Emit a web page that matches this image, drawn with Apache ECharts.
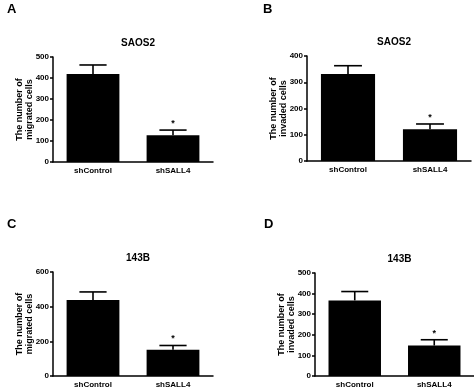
<!DOCTYPE html>
<html><head><meta charset="utf-8">
<script src="https://cdn.jsdelivr.net/npm/echarts@6/dist/echarts.min.js"></script>
<style>html,body{margin:0;padding:0;background:#fff}#c{width:474px;height:389px}</style>
</head><body><div id="c"></div>
<script>
var categories = ['shControl', 'shSALL4'];
var panelLetters = ['A', 'B', 'C', 'D'];
var panelTitles = ['SAOS2', 'SAOS2', '143B', '143B'];
var yNames = ['The number of\nmigrated cells', 'The number of\ninvaded cells', 'The number of\nmigrated cells', 'The number of\ninvaded cells'];
var meanA = [419, 127];
var errA = [462, 152];
var meanB = [331, 121];
var errB = [363, 141];
var meanC = [439, 151];
var errC = [485, 176];
var meanD = [367, 148];
var errD = [410, 176];
var yMax = [500, 400, 600, 500];
var yStep = [100, 100, 200, 100];
var signif = ['', '*'];

var means = [meanA, meanB, meanC, meanD];
var errs = [errA, errB, errC, errD];
var grids = [
  {left: 53, top: 57, width: 160, height: 105},
  {left: 307, top: 56, width: 164, height: 105},
  {left: 53, top: 272, width: 160, height: 105},
  {left: 315, top: 273, width: 159, height: 105}
];
var letterPos = [[2, -2], [258, -2], [2, 213], [259, 213]];
var font = 'Liberation Sans, Arial, sans-serif';

var option = {
  animation: false,
  backgroundColor: '#fff',
  title: [],
  grid: [], xAxis: [], yAxis: [], series: []
};
for (var i = 0; i < 4; i++) {
  var g = grids[i];
  option.grid.push({left: g.left, top: g.top, width: g.width, height: g.height, containLabel: false});
  option.title.push({text: panelTitles[i], left: g.left + g.width / 2, top: g.top - 24, textAlign: 'center',
    textStyle: {fontFamily: font, fontWeight: 'bold', fontSize: 10, color: '#000'}});
  option.title.push({text: panelLetters[i], left: letterPos[i][0], top: letterPos[i][1],
    textStyle: {fontFamily: font, fontWeight: 'bold', fontSize: 13, color: '#000'}});
  option.xAxis.push({type: 'category', gridIndex: i, data: categories,
    axisLine: {lineStyle: {color: '#000', width: 1.5}},
    axisTick: {alignWithLabel: true, length: 3, lineStyle: {color: '#000', width: 1.5}},
    axisLabel: {fontFamily: font, fontWeight: 'bold', fontSize: 8, color: '#000', margin: 5}});
  option.yAxis.push({type: 'value', gridIndex: i, min: 0, max: yMax[i], interval: yStep[i],
    name: yNames[i], nameLocation: 'middle', nameRotate: 90, nameGap: 18, nameMoveOverlap: false,
    nameTextStyle: {fontFamily: font, fontWeight: 'bold', fontSize: 9, color: '#000', lineHeight: 10},
    splitLine: {show: false},
    axisLine: {show: true, lineStyle: {color: '#000', width: 1.5}},
    axisTick: {show: true, length: 3, lineStyle: {color: '#000', width: 1.5}},
    axisLabel: {fontFamily: font, fontWeight: 'bold', fontSize: 8, color: '#000', margin: 4}});
  option.series.push({type: 'bar', xAxisIndex: i, yAxisIndex: i, data: means[i], barWidth: '66%',
    itemStyle: {color: '#000'}, z: 2});
  (function (idx) {
    option.series.push({type: 'custom', xAxisIndex: idx, yAxisIndex: idx,
      data: categories.map(function (c, k) { return [k, means[idx][k], errs[idx][k]]; }),
      z: 3,
      renderItem: function (params, api) {
        var k = api.value(0);
        var base = api.coord([k, api.value(1)]);
        var top = api.coord([k, api.value(2)]);
        var half = api.size([1, 0])[0] * 0.17;
        var children = [
          {type: 'line', shape: {x1: base[0], y1: base[1], x2: top[0], y2: top[1]}, style: {stroke: '#000', lineWidth: 1.6}},
          {type: 'line', shape: {x1: top[0] - half, y1: top[1], x2: top[0] + half, y2: top[1]}, style: {stroke: '#000', lineWidth: 1.6}}
        ];
        if (signif[k]) {
          children.push({type: 'text', style: {text: signif[k], x: top[0], y: top[1] - 2, textAlign: 'center', textVerticalAlign: 'bottom',
            fill: '#000', font: 'bold 9px ' + font}});
        }
        return {type: 'group', children: children};
      }});
  })(i);
}
var chart = echarts.init(document.getElementById('c'), null, {renderer: 'canvas'});
chart.setOption(option);
</script></body></html>
